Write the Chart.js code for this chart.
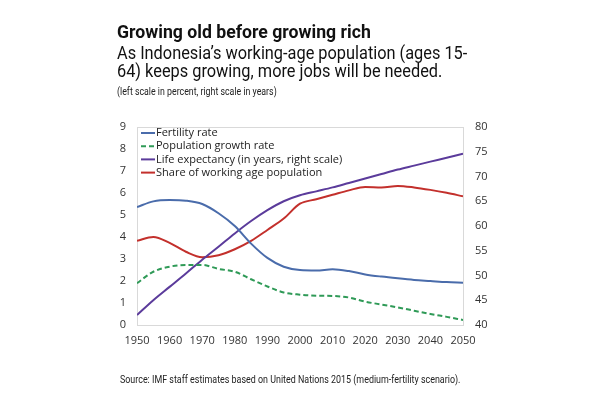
<!DOCTYPE html>
<html><head><meta charset="utf-8">
<script src="https://cdn.jsdelivr.net/npm/chart.js@4"></script>
<style>
html,body{margin:0;padding:0;background:#fff;width:600px;height:400px;overflow:hidden}
#wrap{position:relative;width:600px;height:400px}
#c{position:absolute;left:0;top:0}
.t{position:absolute;white-space:nowrap;transform-origin:0 0;color:#111;font-family:Roboto,sans-serif;line-height:1}
#title{left:117px;top:22px;font-size:19px;font-weight:bold;transform:scaleX(0.93)}
#sub{left:117px;top:44px;font-size:19px;line-height:18px;transform:scaleX(0.86)}
#note{left:117px;top:87px;font-size:10px;transform:scaleX(0.88);color:#222}
#src{left:120px;top:374px;font-size:11px;transform:scaleX(0.81);color:#222}
</style></head>
<body><div id="wrap">
<canvas id="c" width="600" height="400"></canvas>
<div class="t" id="title">Growing old before growing rich</div>
<div class="t" id="sub">As Indonesia’s working-age population (ages 15-<br>64) keeps growing, more jobs will be needed.</div>
<div class="t" id="note">(left scale in percent, right scale in years)</div>
<div class="t" id="src">Source: IMF staff estimates based on United Nations 2015 (medium-fertility scenario).</div>
</div>
<script>
const years = [1950,1955,1960,1965,1970,1975,1980,1985,1990,1995,2000,2005,2010,2015,2020,2025,2030,2035,2040,2045,2050];
const fertilityRate = [5.36,5.62,5.68,5.65,5.5,5.08,4.5,3.7,3.05,2.65,2.5,2.48,2.53,2.45,2.3,2.2,2.12,2.05,2.0,1.95,1.92];
const popGrowthRate = [1.9,2.42,2.65,2.73,2.73,2.55,2.42,2.08,1.75,1.48,1.38,1.33,1.32,1.25,1.06,0.93,0.8,0.65,0.5,0.37,0.23];
const lifeExpectancy = [42.0,45.0,47.7,50.4,53.2,55.8,58.5,61.0,63.2,65.0,66.2,67.0,67.8,68.7,69.6,70.5,71.4,72.2,73.0,73.8,74.6];
const workingAgeShare = [57.0,57.8,56.6,54.8,53.7,54.1,55.3,57.0,59.2,61.5,64.5,65.4,66.3,67.2,67.9,67.8,68.1,67.8,67.3,66.7,66.0];
const seriesLabels = ['Fertility rate','Population growth rate','Life expectancy (in years, right scale)','Share of working age population'];

const pts = arr => years.map((y,i)=>({x:y,y:arr[i]}));

const frame = {
  id:'frame',
  beforeDatasetsDraw(chart){
    const a=chart.chartArea, ctx=chart.ctx;
    ctx.save(); ctx.strokeStyle='#d9d9d9'; ctx.lineWidth=1;
    ctx.strokeRect(Math.round(a.left)+0.5,Math.round(a.top)+0.5,Math.round(a.right-a.left),Math.round(a.bottom-a.top));
    ctx.restore();
  }
};
const innerLegend = {
  id:'innerLegend',
  afterDatasetsDraw(chart){
    const a=chart.chartArea, ctx=chart.ctx;
    ctx.save();
    ctx.font='11px "Open Sans", sans-serif';
    ctx.textBaseline='middle';
    chart.data.datasets.forEach((ds,i)=>{
      const y=a.top+6+i*13.2, x=a.left+4;
      ctx.strokeStyle=ds.borderColor; ctx.lineWidth=2;
      ctx.setLineDash(ds.borderDash||[]);
      ctx.beginPath(); ctx.moveTo(x,y); ctx.lineTo(x+14,y); ctx.stroke();
      ctx.setLineDash([]);
      ctx.fillStyle='#222';
      ctx.fillText(ds.label,x+15,y);
    });
    ctx.restore();
  }
};

new Chart(document.getElementById('c'),{
  type:'line',
  data:{datasets:[
    {label:seriesLabels[0],data:pts(fertilityRate),borderColor:'#4a6cab',yAxisID:'y'},
    {label:seriesLabels[1],data:pts(popGrowthRate),borderColor:'#2f9a57',borderDash:[5,3],yAxisID:'y'},
    {label:seriesLabels[2],data:pts(lifeExpectancy),borderColor:'#5b3b9b',yAxisID:'y1'},
    {label:seriesLabels[3],data:pts(workingAgeShare),borderColor:'#c3302c',yAxisID:'y1'}
  ]},
  options:{
    responsive:false,animation:false,
    layout:{padding:{left:100,right:100,top:127,bottom:50}},
    elements:{point:{radius:0},line:{borderWidth:2,tension:0.4,cubicInterpolationMode:'monotone',fill:false}},
    plugins:{legend:{display:false},tooltip:{enabled:false}},
    scales:{
      x:{type:'linear',min:1950,max:2050,
        ticks:{stepSize:10,callback:v=>String(v),color:'#333',font:{family:'"Open Sans"',size:11},padding:9,maxRotation:0},
        grid:{display:false,drawTicks:false},border:{display:false},
        afterFit:s=>{s.height=25;}},
      y:{position:'left',min:0,max:9,
        ticks:{stepSize:1,color:'#333',font:{family:'"Open Sans"',size:11},padding:11},
        grid:{display:false,drawTicks:false},border:{display:false},
        afterFit:s=>{s.width=37;}},
      y1:{position:'right',min:40,max:80,
        ticks:{stepSize:5,color:'#333',font:{family:'"Open Sans"',size:11},padding:12},
        grid:{display:false,drawTicks:false},border:{display:false},
        afterFit:s=>{s.width=37;}}
    }
  },
  plugins:[frame,innerLegend]
});
</script>
</body></html>
